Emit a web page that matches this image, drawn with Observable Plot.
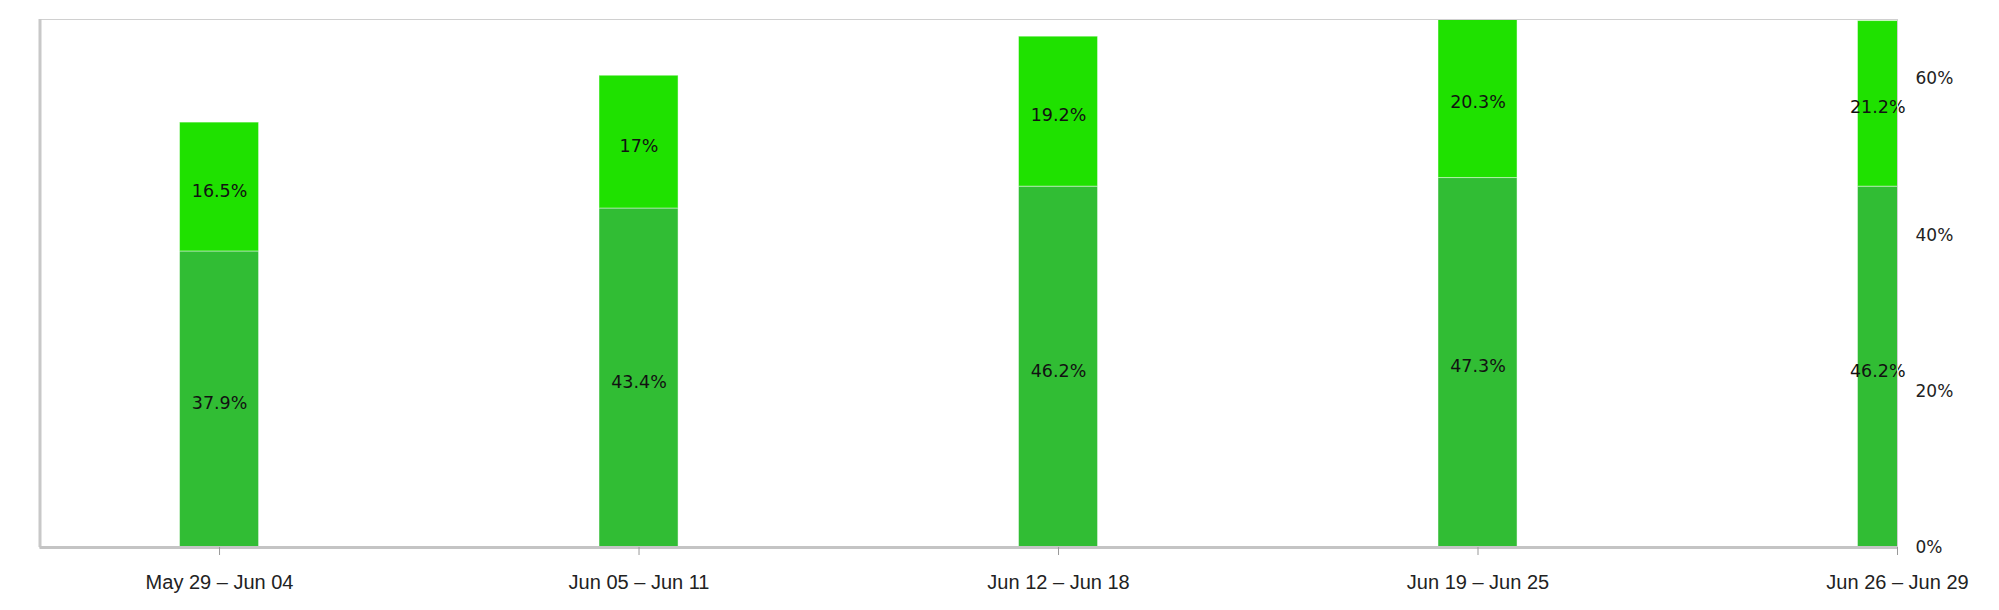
<!DOCTYPE html>
<html>
<head>
<meta charset="utf-8">
<script src="https://cdn.jsdelivr.net/npm/d3@7"></script>
<script src="https://cdn.jsdelivr.net/npm/@observablehq/plot@0.6"></script>
<style>
  html, body { margin: 0; padding: 0; background: #fff; }
  #chart svg { display: block; }
</style>
</head>
<body>
<div id="chart"></div>
<script>
// ---- data ----
const weeks = ["May 29 – Jun 04", "Jun 05 – Jun 11", "Jun 12 – Jun 18", "Jun 19 – Jun 25", "Jun 26 – Jun 29"];
const lowerValues = [37.9, 43.4, 46.2, 47.3, 46.2];
const upperValues = [16.5, 17, 19.2, 20.3, 21.2];
const yTicks = [0, 20, 40, 60];
const seriesNames = ["lower", "upper"];
const seriesColors = ["#31bd34", "#1fe100"];

// ---- layout ----
const W = 1999, H = 610;
const xDomain = [-0.428, weeks.length - 1];
const halfBar = 0.0942;
const yMax = 67.6;

const rows = [];
weeks.forEach((w, i) => {
  const lo = lowerValues[i], up = upperValues[i];
  rows.push({i, week: w, series: "lower", y1: 0, y2: lo, value: lo});
  rows.push({i, week: w, series: "upper", y1: lo, y2: lo + up, value: up});
});
const clampX = v => Math.max(xDomain[0], Math.min(xDomain[1], v));
const labelX = d => (clampX(d.i - halfBar) + clampX(d.i + halfBar)) / 2;

const chart = Plot.plot({
  width: W,
  height: H,
  marginLeft: 39.5,
  marginRight: 102,
  marginTop: 19,
  marginBottom: 63,
  style: {fontFamily: "DejaVu Sans", background: "#fff"},
  x: {type: "linear", domain: xDomain, axis: null},
  y: {domain: [0, yMax], axis: null},
  color: {domain: seriesNames, range: seriesColors},
  marks: [
    Plot.rectY(rows, {
      x1: d => d.i - halfBar,
      x2: d => d.i + halfBar,
      y1: "y1",
      y2: "y2",
      fill: "series",
      stroke: "#fff",
      strokeOpacity: 0.45,
      strokeWidth: 1,
      clip: true
    }),
    Plot.text(rows, {
      x: labelX,
      y: d => (d.y1 + d.y2) / 2,
      text: d => d.value + "%",
      fill: "#111",
      fontSize: 17.5,
      dy: 4,
      fontFamily: "DejaVu Sans"
    }),
    Plot.frame({stroke: "#d0d0d0", strokeWidth: 1}),
    Plot.ruleX([xDomain[0]], {stroke: "#c8c8c8", strokeWidth: 3}),
    Plot.ruleY([0], {stroke: "#c4c4c4", strokeWidth: 3}),
    Plot.axisX({
      ticks: weeks.map((_, i) => i),
      tickFormat: i => weeks[i],
      tickSize: 8,
      tickPadding: 19,
      stroke: "#999",
      fontSize: 20,
      fontFamily: "Liberation Sans",
      fill: "#222"
    }),
    Plot.axisY({
      anchor: "right",
      ticks: yTicks,
      tickFormat: d => d + "%",
      tickSize: 0,
      tickPadding: 18,
      fontSize: 17,
      fontFamily: "DejaVu Sans",
      fill: "#222",
      label: null
    })
  ]
});
document.getElementById("chart").append(chart);
</script>
</body>
</html>
